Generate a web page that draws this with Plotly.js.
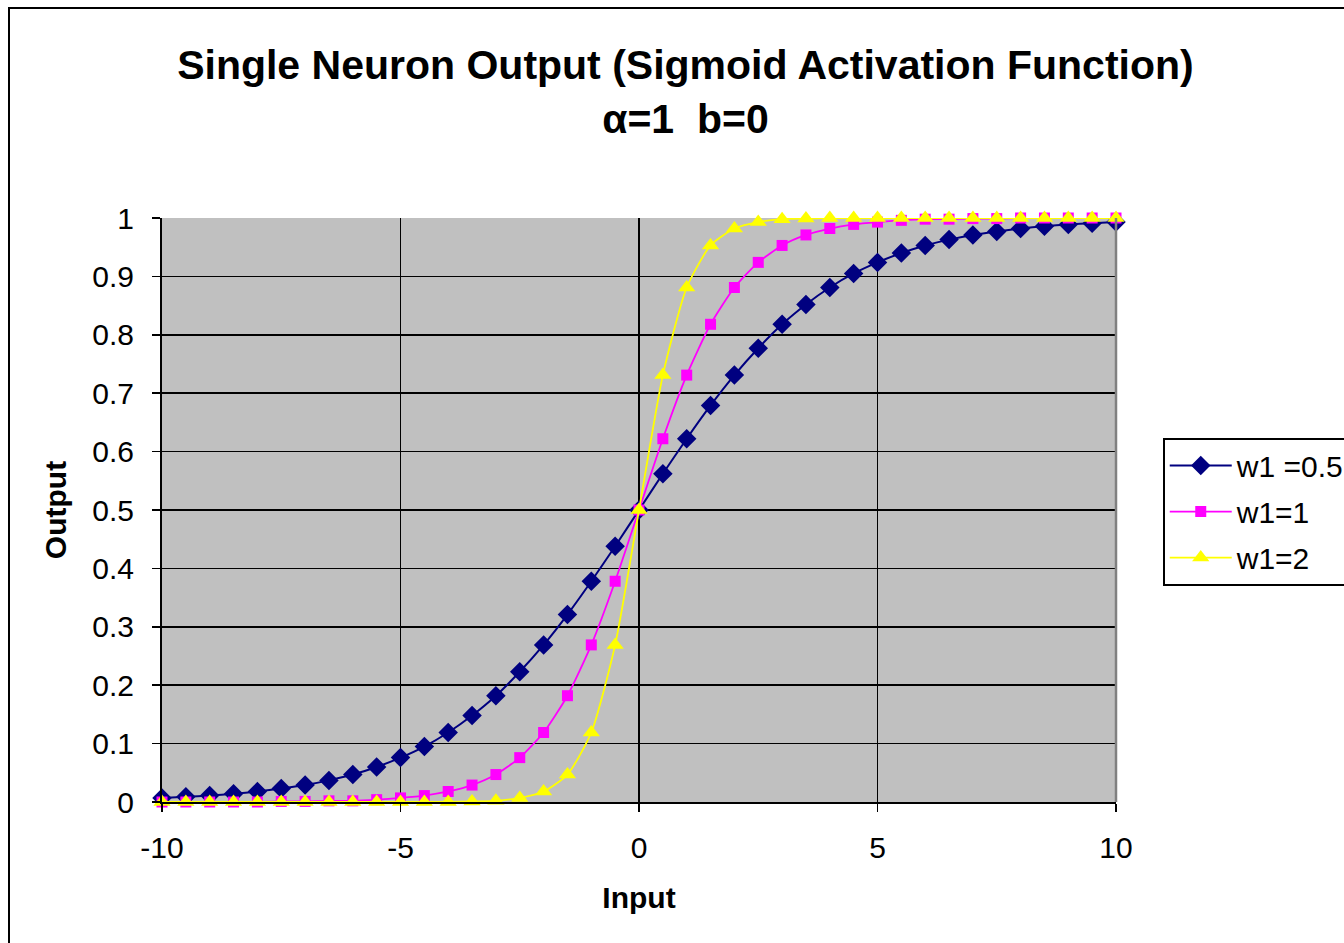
<!DOCTYPE html>
<html>
<head>
<meta charset="utf-8">
<script src="https://cdn.plot.ly/plotly-3.0.1.min.js"></script>
<style>
html, body { margin: 0; padding: 0; background: #fff; overflow: hidden; }
#frame { position: absolute; left: 8px; top: 7px; width: 1400px; height: 1000px; border: 2px solid #000; box-sizing: border-box; pointer-events: none; z-index: 5; }
#chart { width: 1344px; height: 943px; }
</style>
</head>
<body>
<div id="frame"></div>
<div id="chart"></div>
<script>
const inputs = [-10, -9.5, -9, -8.5, -8, -7.5, -7, -6.5, -6, -5.5, -5, -4.5, -4, -3.5, -3, -2.5, -2, -1.5, -1, -0.5, 0,
                0.5, 1, 1.5, 2, 2.5, 3, 3.5, 4, 4.5, 5, 5.5, 6, 6.5, 7, 7.5, 8, 8.5, 9, 9.5, 10];

const outW05 = [0.007, 0.009, 0.011, 0.014, 0.018, 0.023, 0.029, 0.037, 0.047, 0.060, 0.076, 0.095, 0.119, 0.148, 0.182, 0.223, 0.269, 0.321, 0.378, 0.438, 0.500,
                0.562, 0.622, 0.679, 0.731, 0.777, 0.818, 0.852, 0.881, 0.905, 0.924, 0.940, 0.953, 0.963, 0.971, 0.977, 0.982, 0.986, 0.989, 0.991, 0.993];

const outW1 = [0.000, 0.000, 0.000, 0.000, 0.000, 0.001, 0.001, 0.002, 0.002, 0.004, 0.007, 0.011, 0.018, 0.029, 0.047, 0.076, 0.119, 0.182, 0.269, 0.378, 0.500,
               0.622, 0.731, 0.818, 0.881, 0.924, 0.953, 0.971, 0.982, 0.989, 0.993, 0.996, 0.998, 0.998, 0.999, 0.999, 1.000, 1.000, 1.000, 1.000, 1.000];

const outW2 = [0.000, 0.000, 0.000, 0.000, 0.000, 0.000, 0.000, 0.000, 0.000, 0.000, 0.000, 0.000, 0.000, 0.001, 0.002, 0.007, 0.018, 0.047, 0.119, 0.269, 0.500,
               0.731, 0.881, 0.953, 0.982, 0.993, 0.998, 0.999, 1.000, 1.000, 1.000, 1.000, 1.000, 1.000, 1.000, 1.000, 1.000, 1.000, 1.000, 1.000, 1.000];

const seriesNames = ['w1 =0.5', 'w1=1', 'w1=2'];
const xTicks = [-10, -5, 0, 5, 10];
const yTicks = [0, 0.1, 0.2, 0.3, 0.4, 0.5, 0.6, 0.7, 0.8, 0.9, 1];

const FONT = 'Liberation Sans, Arial, sans-serif';

function trace(y, name, color, symbol, size, group, lw) {
  return {
    x: inputs, y: y, name: name, type: 'scatter', mode: 'lines+markers',
    line: { color: color, width: lw, shape: 'spline', smoothing: 0.6 },
    marker: { color: color, symbol: symbol, size: size, line: { width: 0 } },
    cliponaxis: false, legendgroup: group
  };
}

const data = [
  trace(outW05, seriesNames[0], '#000080', 'diamond', 15, 'a', 2),
  trace(outW1, seriesNames[1], '#FF00FF', 'square', 11, 'b', 1.8),
  trace(outW2, seriesNames[2], '#FFFF00', 'triangle-up', 15, 'c', 1.8)
];

const layout = {
  width: 1344, height: 943,
  paper_bgcolor: '#ffffff', plot_bgcolor: '#C0C0C0',
  margin: { l: 162, r: 228, t: 218, b: 141, pad: 0, autoexpand: false },
  font: { family: FONT, color: '#000', size: 30 },
  title: {
    text: 'Single Neuron Output (Sigmoid Activation Function)<br>α=1  b=0',
    font: { family: FONT, size: 41, color: '#000', weight: 'bold' },
    x: 0.51, xanchor: 'center', y: 0.916, yanchor: 'top'
  },
  xaxis: {
    range: [-10, 10], tickvals: xTicks, ticktext: xTicks.map(String),
    showgrid: true, gridcolor: '#000', gridwidth: 1.5,
    showline: true, linecolor: '#000', linewidth: 2,
    ticks: 'outside', ticklen: 8, tickcolor: '#000', tickwidth: 1.5,
    zeroline: false, tickfont: { size: 30 }, ticklabelstandoff: 10,
    title: { text: 'Input', font: { size: 30, weight: 'bold' }, standoff: 24 }
  },
  yaxis: {
    range: [0, 1], tickvals: yTicks, ticktext: yTicks.map(String),
    showgrid: true, gridcolor: '#000', gridwidth: 1.5,
    showline: true, linecolor: '#000', linewidth: 2,
    ticks: 'outside', ticklen: 8, tickcolor: '#000', tickwidth: 1.5,
    zeroline: false, tickfont: { size: 30 }, ticklabelstandoff: 12,
    title: { text: 'Output', font: { size: 30, weight: 'bold' }, standoff: 17 }
  },
  showlegend: true,
  legend: {
    x: 1.049, xanchor: 'left', y: 0.624, yanchor: 'top',
    bgcolor: '#ffffff', bordercolor: '#000', borderwidth: 2,
    font: { size: 30, family: FONT }, traceorder: 'grouped', tracegroupgap: 4,
    itemwidth: 62
  },
  shapes: [
    { type: 'line', xref: 'paper', yref: 'paper', x0: 1, x1: 1, y0: 0, y1: 1, line: { color: '#808080', width: 2.5 } }
  ]
};

Plotly.newPlot('chart', data, layout, { staticPlot: true, displayModeBar: false });
</script>
</body>
</html>
